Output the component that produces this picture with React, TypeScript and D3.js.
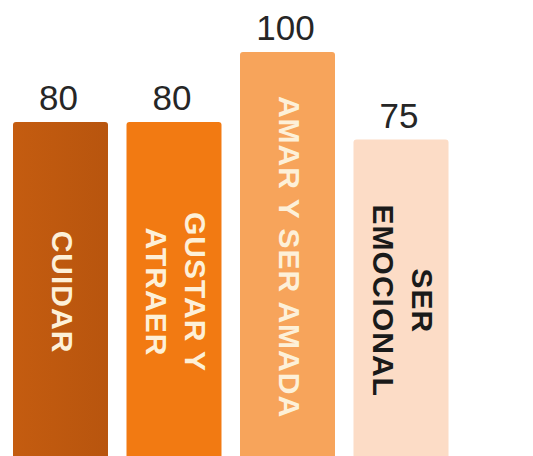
import React from "react";
import * as d3 from "d3";

const categories = ["CUIDAR", "GUSTAR Y ATRAER", "AMAR Y SER AMADA", "SER EMOCIONAL"];
const values = [80, 80, 100, 75];
const innerLines = [["CUIDAR"], ["GUSTAR Y", "ATRAER"], ["AMAR Y SER AMADA"], ["SER", "EMOCIONAL"]];
const barColors = ["#c35b10", "#f27a12", "#f7a45b", "#fcdcc6"];
const textColors = ["#fdf0d8", "#fdf0d8", "#fdf0d8", "#1a1a1a"];

const W = 533;
const H = 456;

export default function App() {
  const x = d3
    .scaleBand<string>()
    .domain(categories)
    .range([13, 448.5])
    .paddingInner(0.163)
    .paddingOuter(0);
  const y = d3.scaleLinear().domain([0, 100]).range([402, 52]);
  const bottom = H + 6;
  const r = 3;

  return (
    <svg
      width={W}
      height={H}
      style={{ position: "absolute", left: 0, top: 0, background: "#ffffff" }}
      fontFamily="'Liberation Sans', Arial, sans-serif"
    >
      <defs>
        <linearGradient id="g0" x1="0" x2="1" y1="0" y2="0">
          <stop offset="0" stopColor="#c45c10" />
          <stop offset="1" stopColor="#b8550e" />
        </linearGradient>
      </defs>
      {categories.map((c, i) => {
        const x0 = x(c)!;
        const w = x.bandwidth();
        const top = y(values[i]);
        const path = d3.path();
        path.moveTo(x0, bottom);
        path.lineTo(x0, top + r);
        path.quadraticCurveTo(x0, top, x0 + r, top);
        path.lineTo(x0 + w - r, top);
        path.quadraticCurveTo(x0 + w, top, x0 + w, top + r);
        path.lineTo(x0 + w, bottom);
        path.closePath();
        const cx = x0 + w / 2;
        const cy = (top + bottom) / 2;
        const lines = innerLines[i];
        const lh = 39;
        return (
          <g key={c}>
            <path d={path.toString()} fill={i === 0 ? "url(#g0)" : barColors[i]} />
            <text
              x={cx - 2}
              y={top - 12}
              textAnchor="middle"
              fontSize={35}
              fill="#262626"
            >
              {values[i]}
            </text>
            <g transform={`translate(${cx + 2},${cy}) rotate(90)`}>
              {lines.map((ln, j) => {
                const off = (j - (lines.length - 1) / 2) * lh;
                return (
                  <text
                    key={j}
                    x={0}
                    y={off}
                    textAnchor="middle"
                    dominantBaseline="central"
                    fontSize={30}
                    fontWeight="bold"
                    letterSpacing={1}
                    fill={textColors[i]}
                  >
                    {ln}
                  </text>
                );
              })}
            </g>
          </g>
        );
      })}
    </svg>
  );
}
